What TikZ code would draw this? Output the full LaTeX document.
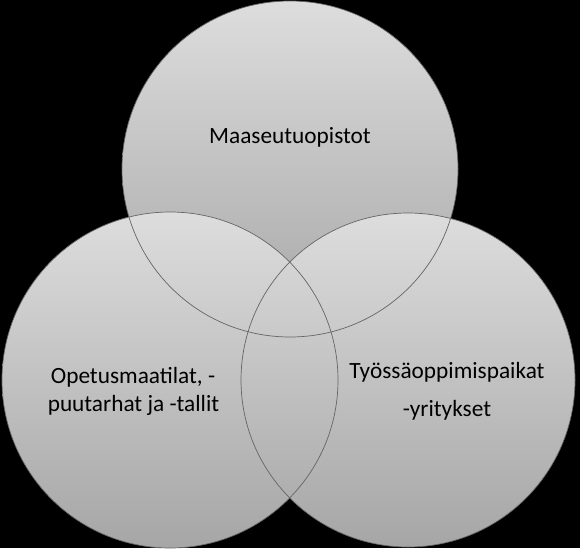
\documentclass[tikz,border=0pt]{standalone}
\usepackage{fontspec}
\setmainfont{Carlito}
\begin{document}
\begin{tikzpicture}[x=1pt,y=-1pt,
  vennfill/.style={top color=circtop, bottom color=circbot, draw=none},
  vennline/.style={draw=circline, line width=0.7pt},
  lbl/.style={anchor=base, inner sep=0pt, text=black, font=\fontsize{23.3}{28}\selectfont}]
\definecolor{circtop}{HTML}{DDDDDD}
\definecolor{circbot}{HTML}{A6A6A6}
\definecolor{circline}{HTML}{656565}
\fill[black] (0,0) rectangle (580,548);
\useasboundingbox (0,0) rectangle (580,548);
% circle fills
\path[vennfill] (290,169) circle (168);
\path[vennfill] (170,380) circle (168);
\path[vennfill] (408,380) circle (167);
% outlines on top
\draw[vennline] (290,169) circle (168);
\draw[vennline] (170,380) circle (168);
\draw[vennline] (408,380) circle (167);
% labels
\node[lbl] (top) at (290,143) {Maaseutuopistot};
\node[lbl] (left1) at (133,383) {Opetusmaatilat, -};
\node[lbl] (left2) at (133.5,411) {puutarhat ja -tallit};
\node[lbl] (right1) at (447,378) {Työssäoppimispaikat};
\node[lbl] (right2) at (447,416) {-yritykset};
\end{tikzpicture}
\end{document}
